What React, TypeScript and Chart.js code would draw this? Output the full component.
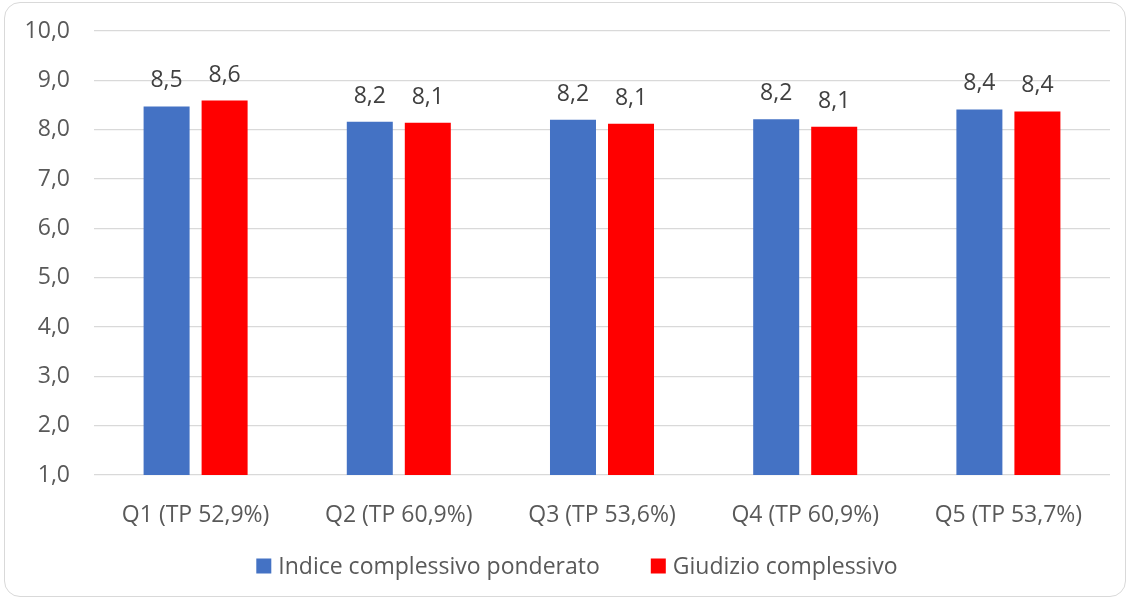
import React, { useEffect, useRef } from "react";
import { Chart, registerables } from "chart.js";

Chart.register(...registerables);

const categories = [
  "Q1 (TP 52,9%)",
  "Q2 (TP 60,9%)",
  "Q3 (TP 53,6%)",
  "Q4 (TP 60,9%)",
  "Q5 (TP 53,7%)",
];
const seriesNames = ["Indice complessivo ponderato", "Giudizio complessivo"];
const indiceValues = [8.47, 8.16, 8.2, 8.21, 8.41];
const giudizioValues = [8.59, 8.14, 8.12, 8.06, 8.37];
const yMin = 1;
const yMax = 10;
const yStep = 1;

const FONT = "'Open Sans', 'Noto Sans', sans-serif";
const FONT_SIZE = 23;
const TEXT_COLOR = "#595959";
const LABEL_COLOR = "#404040";
const COLORS = ["#4472C4", "#FF0000"];

const fmt = (v: number) => v.toFixed(1).replace(".", ",");

const dataLabelPlugin = {
  id: "dataLabels",
  afterDatasetsDraw(chart: any) {
    const ctx = chart.ctx;
    ctx.save();
    ctx.font = `${FONT_SIZE}px ${FONT}`;
    ctx.fillStyle = LABEL_COLOR;
    ctx.textAlign = "center";
    ctx.textBaseline = "alphabetic";
    chart.data.datasets.forEach((ds: any, i: number) => {
      const meta = chart.getDatasetMeta(i);
      meta.data.forEach((bar: any, j: number) => {
        ctx.fillText(fmt(ds.data[j]), bar.x, bar.y - 19);
      });
    });
    ctx.restore();
  },
};

const legendPlugin = {
  id: "customLegend",
  afterDraw(chart: any) {
    const ctx = chart.ctx;
    ctx.save();
    ctx.font = `${FONT_SIZE}px ${FONT}`;
    const box = 15;
    const gapText = 7;
    const gapItem = 51;
    const items = chart.data.datasets.map((ds: any) => ({
      text: ds.label,
      color: ds.backgroundColor,
      w: ctx.measureText(ds.label).width,
    }));
    let total = 0;
    items.forEach((it: any, i: number) => {
      total += box + gapText + it.w + (i < items.length - 1 ? gapItem : 0);
    });
    const cx = 577;
    const cy = 566;
    let x = cx - total / 2;
    items.forEach((it: any) => {
      ctx.fillStyle = it.color;
      ctx.fillRect(x, cy - box / 2, box, box);
      x += box + gapText;
      ctx.fillStyle = TEXT_COLOR;
      ctx.textAlign = "left";
      ctx.textBaseline = "middle";
      ctx.fillText(it.text, x, cy + 1);
      x += it.w + gapItem;
    });
    ctx.restore();
  },
};

export default function App() {
  const canvasRef = useRef<HTMLCanvasElement | null>(null);

  useEffect(() => {
    document.body.style.margin = "0";
    const canvas = canvasRef.current;
    if (!canvas) return;
    const chart = new Chart(canvas, {
      type: "bar",
      data: {
        labels: categories,
        datasets: [
          {
            label: seriesNames[0],
            data: indiceValues,
            backgroundColor: COLORS[0],
            categoryPercentage: 0.571,
            barPercentage: 0.793,
          },
          {
            label: seriesNames[1],
            data: giudizioValues,
            backgroundColor: COLORS[1],
            categoryPercentage: 0.571,
            barPercentage: 0.793,
          },
        ],
      },
      options: {
        responsive: false,
        animation: false,
        layout: { padding: { left: 0, right: 20, top: 31, bottom: 66 } },
        plugins: {
          legend: { display: false },
          tooltip: { enabled: false },
        },
        scales: {
          x: {
            grid: { display: false },
            border: { display: false },
            ticks: {
              color: TEXT_COLOR,
              font: { family: FONT, size: FONT_SIZE },
              padding: 19,
              maxRotation: 0,
            },
            afterFit(scale: any) {
              scale.height = 60;
              scale.paddingLeft = 0;
              scale.paddingRight = 0;
            },
          },
          y: {
            min: yMin,
            max: yMax,
            grid: { color: "#D9D9D9", lineWidth: 1.3, drawTicks: false },
            border: { display: false },
            ticks: {
              stepSize: yStep,
              color: TEXT_COLOR,
              font: { family: FONT, size: FONT_SIZE },
              padding: 24,
              callback: (v: any) => fmt(Number(v)),
            },
            afterFit(scale: any) {
              scale.width = 94;
              scale.paddingTop = 0;
              scale.paddingBottom = 0;
            },
          },
        },
      },
      plugins: [dataLabelPlugin, legendPlugin],
    });
    return () => chart.destroy();
  }, []);

  return (
    <div style={{ position: "relative", width: 1130, height: 601, background: "#fff" }}>
      <div
        style={{
          position: "absolute",
          left: 4,
          top: 2,
          width: 1122,
          height: 595,
          border: "1px solid #D9D9D9",
          borderRadius: 16,
          boxSizing: "border-box",
        }}
      />
      <canvas
        ref={canvasRef}
        width={1130}
        height={601}
        style={{ position: "absolute", left: 0, top: 0 }}
      />
    </div>
  );
}
